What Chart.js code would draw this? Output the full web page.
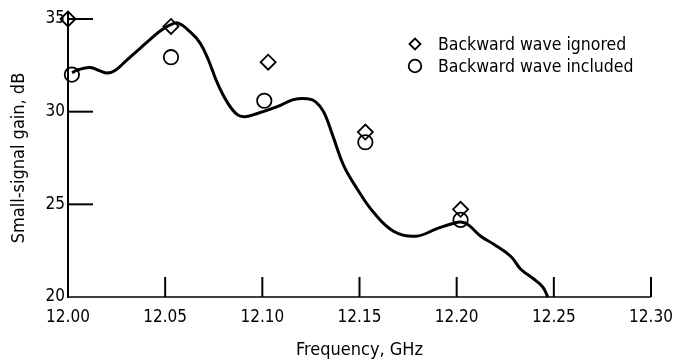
<!DOCTYPE html>
<html><head><meta charset="utf-8">
<script src="https://cdn.jsdelivr.net/npm/chart.js@4"></script>
<style>html,body{margin:0;padding:0;background:#fff;}#wrap{width:673px;height:364px;position:relative;}</style>
</head><body><div id="wrap"><canvas id="c" width="673" height="364"></canvas></div>
<script>
const FONT = '"DejaVu Sans Condensed", "DejaVu Sans", sans-serif';

const seriesLabels = ['Backward wave ignored', 'Backward wave included'];
const freqIgnored = [12.000, 12.053, 12.103, 12.153, 12.202];
const gainIgnored = [35.0, 34.6, 32.67, 28.9, 24.73];
const freqIncluded = [12.002, 12.053, 12.101, 12.153, 12.202];
const gainIncluded = [32.0, 32.94, 30.59, 28.35, 24.16];

const curveFreq = [12.0021, 12.0052, 12.0113, 12.0165, 12.0201, 12.0242, 12.0304, 12.0371, 12.0423, 12.0474,
  12.0526, 12.0567, 12.0629, 12.0680, 12.0722, 12.0768, 12.0820, 12.0871, 12.0912, 12.0974,
  12.1077, 12.1160, 12.1232, 12.1273, 12.1315, 12.1366, 12.1418, 12.1490, 12.1572, 12.1675,
  12.1789, 12.1902, 12.1985, 12.2021, 12.2057, 12.2124, 12.2191, 12.2278, 12.2330, 12.2397,
  12.2443, 12.2469];
const curveGain = [32.1, 32.26, 32.38, 32.2, 32.08, 32.22, 32.8, 33.42, 33.9, 34.35,
  34.68, 34.78, 34.3, 33.7, 32.8, 31.56, 30.5, 29.84, 29.73, 29.9,
  30.27, 30.65, 30.7, 30.54, 30.0, 28.6, 27.1, 25.8, 24.57, 23.55,
  23.28, 23.7, 23.98, 24.05, 23.92, 23.28, 22.85, 22.2, 21.5, 20.97,
  20.54, 20.0];

const xTicks = [12.00, 12.05, 12.10, 12.15, 12.20, 12.25, 12.30];
const yTicks = [20, 25, 30, 35];

function pts(xs, ys) { return xs.map((x, i) => ({x: x, y: ys[i]})); }

const axesPlugin = {
  id: 'axesInward',
  beforeDatasetsDraw(chart) {
    const {ctx, scales: {x, y}} = chart;
    const L = x.getPixelForValue(xTicks[0]);
    const R = x.getPixelForValue(xTicks[xTicks.length - 1]);
    const B = y.getPixelForValue(yTicks[0]);
    const T = y.getPixelForValue(yTicks[yTicks.length - 1]);
    ctx.save();
    ctx.strokeStyle = '#000';
    ctx.lineWidth = 2;
    ctx.beginPath(); ctx.moveTo(L, T - 6); ctx.lineTo(L, B + 1); ctx.stroke();
    ctx.lineWidth = 1.5;
    ctx.beginPath(); ctx.moveTo(L, B); ctx.lineTo(R, B); ctx.stroke();
    ctx.lineWidth = 2;
    yTicks.slice(1).forEach(v => {
      const py = y.getPixelForValue(v);
      ctx.beginPath(); ctx.moveTo(L, py); ctx.lineTo(L + 25, py); ctx.stroke();
    });
    xTicks.slice(1).forEach(v => {
      const px = x.getPixelForValue(v);
      ctx.beginPath(); ctx.moveTo(px, B); ctx.lineTo(px, B - 20); ctx.stroke();
    });
    ctx.restore();
  }
};

const legendPlugin = {
  id: 'customLegend',
  afterDraw(chart) {
    const {ctx} = chart;
    ctx.save();
    ctx.strokeStyle = '#000';
    ctx.fillStyle = '#000';
    ctx.lineWidth = 1.8;
    const mx = 415, tx = 438, y0 = 44, dy = 22;
    ctx.beginPath();
    ctx.moveTo(mx - 5.5, y0); ctx.lineTo(mx, y0 - 5.5); ctx.lineTo(mx + 5.5, y0); ctx.lineTo(mx, y0 + 5.5); ctx.closePath();
    ctx.stroke();
    ctx.beginPath(); ctx.arc(mx, y0 + dy, 6.3, 0, Math.PI * 2); ctx.stroke();
    ctx.font = '17.5px ' + FONT;
    ctx.textBaseline = 'middle';
    ctx.textAlign = 'left';
    ctx.fillText(seriesLabels[0], tx, y0 + 1);
    ctx.fillText(seriesLabels[1], tx, y0 + dy + 1);
    ctx.restore();
  }
};

new Chart(document.getElementById('c'), {
  type: 'scatter',
  data: {
    datasets: [
      {label: seriesLabels[0], data: pts(freqIgnored, gainIgnored), pointStyle: 'rectRot', pointRadius: 7.5,
       borderColor: '#000', backgroundColor: 'rgba(0,0,0,0)', borderWidth: 1.8, showLine: false, clip: false},
      {label: seriesLabels[1], data: pts(freqIncluded, gainIncluded), pointStyle: 'circle', pointRadius: 7.2,
       borderColor: '#000', backgroundColor: 'rgba(0,0,0,0)', borderWidth: 1.8, showLine: false, clip: false},
      {label: 'curve', data: pts(curveFreq, curveGain), showLine: true, pointRadius: 0, borderColor: '#000',
       borderWidth: 3, tension: 0.4, fill: false, clip: false}
    ]
  },
  options: {
    responsive: false, animation: false, devicePixelRatio: 1,
    layout: {padding: {top: 19, right: 0, left: 0, bottom: 0}},
    plugins: {legend: {display: false}, tooltip: {enabled: false}},
    scales: {
      x: {
        type: 'linear', min: 12.0, max: 12.3,
        afterBuildTicks: s => { s.ticks = xTicks.map(v => ({value: v})); },
        ticks: {callback: v => Number(v).toFixed(2), font: {family: FONT, size: 17}, color: '#000', padding: 10, maxRotation: 0, autoSkip: false},
        grid: {display: false, drawTicks: false},
        border: {display: false},
        title: {display: true, text: 'Frequency, GHz', font: {family: FONT, size: 18}, color: '#000', padding: {top: 0, bottom: 3}},
        afterFit: s => { s.height = 67; s.paddingRight = 22; s.paddingLeft = 0; }
      },
      y: {
        type: 'linear', min: 20, max: 35,
        afterBuildTicks: s => { s.ticks = yTicks.map(v => ({value: v})); },
        ticks: {font: {family: FONT, size: 17}, color: '#000', padding: 3},
        grid: {display: false, drawTicks: false},
        border: {display: false},
        title: {display: true, text: 'Small-signal gain, dB', font: {family: FONT, size: 18}, color: '#000', padding: {top: 9, bottom: 0}},
        afterFit: s => { s.width = 68; }
      }
    }
  },
  plugins: [axesPlugin, legendPlugin]
});
</script></body></html>
